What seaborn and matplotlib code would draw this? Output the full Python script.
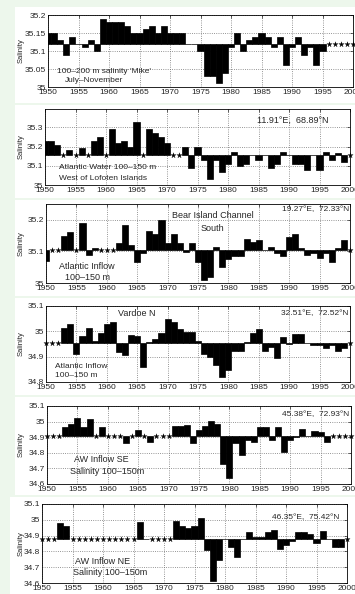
import numpy as np
import matplotlib
matplotlib.use('Agg')
import matplotlib.pyplot as plt
import seaborn as sb
from matplotlib.patches import Rectangle

sb.set_style('white')
plt.rcParams['font.family'] = ['Liberation Sans', 'DejaVu Sans']

nan = np.nan
gadi = np.arange(1950, 2001)

# 100-200 m salinity 'Mike', July-November
mike = [35.15, 35.15, 35.13, 35.09, 35.14, 35.12, 35.11, 35.13, 35.10, 35.19,
        35.18, 35.18, 35.18, 35.17, 35.15, 35.15, 35.16, 35.17, 35.15, 35.17,
        35.15, 35.15, 35.15, 35.12, 35.12, 35.10, 35.03, 35.03, 35.01, 35.04,
        35.11, 35.15, 35.10, 35.13, 35.14, 35.15, 35.14, 35.11, 35.14, 35.06,
        35.11, 35.14, 35.09, 35.11, 35.06, 35.10, nan, nan, nan, nan, nan]
mike_vid = 35.12

# Atlantic Water 100-150 m, West of Lofoten
lofoten = [35.23, 35.23, 35.21, nan, 35.18, nan, 35.19, nan, 35.23, 35.25,
           nan, 35.29, 35.22, 35.23, 35.20, 35.33, nan, 35.29, 35.27, 35.25,
           35.22, nan, nan, 35.20, 35.09, 35.20, 35.13, 35.03, 35.13, 35.07,
           35.11, 35.17, 35.10, 35.11, 35.155, 35.13, 35.155, 35.09, 35.11, 35.17,
           35.157, 35.11, 35.11, 35.08, 35.157, 35.08, 35.17, 35.13, 35.165, 35.12, nan]
lofoten_vid = 35.157

# Bear Island Channel South
lacu = [35.07, nan, nan, 35.15, 35.16, nan, 35.19, 35.09, 35.11, nan,
        nan, nan, 35.125, 35.185, 35.12, 35.065, 35.095, 35.165, 35.155, 35.20,
        35.125, 35.155, 35.125, 35.098, 35.125, 35.065, 35.01, 35.02, 35.115, 35.05,
        35.077, 35.085, 35.085, 35.14, 35.13, 35.135, 35.105, 35.115, 35.095, 35.085,
        35.145, 35.155, 35.11, 35.09, 35.095, 35.08, 35.095, 35.065, 35.11, 35.135, nan]
lacu_vid = 35.103

# Vardoe N
vardoe = [nan, nan, nan, 35.013, 35.03, 34.91, 34.983, 35.013, 34.963, 34.993,
          35.03, 35.035, 34.92, 34.905, 34.987, 34.98, 34.86, 34.958, 34.97, 34.993,
          35.05, 35.035, 35.01, 34.997, 34.998, 34.963, 34.91, 34.90, 34.867, 34.82,
          34.847, 34.923, 34.923, 34.958, 34.993, 35.008, 34.923, 34.937, 34.893, 34.977,
          34.95, 34.99, 34.99, 34.953, 34.948, 34.948, 34.935, 34.948, 34.923, 34.935, nan]
vardoe_vid = 34.952

# AW Inflow SE
se = [nan, nan, nan, 34.968, 34.985, 35.02, 34.965, 35.015, nan, 34.965,
      nan, nan, nan, 34.86, nan, 34.945, nan, 34.87, nan, nan,
      nan, 34.975, 34.975, 34.98, 34.865, 34.945, 34.97, 35.005, 34.985, 34.73,
      34.64, 34.865, 34.785, 34.885, 34.87, 34.965, 34.965, 34.88, 34.965, 34.805,
      34.88, 34.90, 34.955, 34.905, 34.94, 34.935, 34.87, nan, nan, nan, nan]
se_vid = 34.905

# AW Inflow NE
ne = [nan, nan, nan, 34.98, 34.96, nan, nan, nan, nan, nan,
      nan, nan, nan, nan, nan, nan, 34.985, 34.88, nan, nan,
      nan, nan, 34.99, 34.96, 34.948, 34.96, 35.01, 34.806, 34.615, 34.746,
      34.88, 34.827, 34.763, 34.88, 34.922, 34.893, 34.893, 34.922, 34.933, 34.816,
      34.838, 34.863, 34.922, 34.922, 34.912, 34.852, 34.931, 34.88, 34.825, 34.825, nan]
ne_vid = 34.88

fig = plt.figure(figsize=(3.55, 5.94), dpi=100, facecolor='#edf7ec')
W, H = 355.0, 594.0

# balti laukumi zem katra grafika
for x0, y0, x1, y1 in [(15, 7, 355, 103), (15, 105, 355, 198), (15, 200, 355, 296),
                       (15, 298, 355, 395), (15, 397, 355, 495), (10, 497, 355, 594)]:
    fig.patches.append(Rectangle((x0 / W, 1 - y1 / H), (x1 - x0) / W, (y1 - y0) / H,
                                 transform=fig.transFigure, facecolor='white',
                                 edgecolor='none', zorder=-5))


def grafiks(dati, vid, poz, ylim, yticks):
    l, r, t, b = poz
    ax = fig.add_axes([l / W, 1 - b / H, (r - l) / W, (b - t) / H])
    v = np.array(dati, dtype=float)
    ok = ~np.isnan(v)
    ax.bar(gadi[ok], v[ok] - vid, bottom=vid, width=1, color='k',
           edgecolor='k', linewidth=0.5, zorder=3)
    if (~ok).any():
        sb.scatterplot(x=gadi[~ok], y=np.full((~ok).sum(), vid), marker='*',
                       color='k', s=16, linewidth=0.2, edgecolor='k', ax=ax,
                       zorder=4, clip_on=False)
    ax.set_xlim(1950, 2000)
    ax.set_ylim(*ylim)
    ax.set_xticks(np.arange(1950, 2001, 5))
    ax.set_yticks(yticks)
    ax.set_yticklabels(['%g' % y for y in yticks])
    ax.grid(True, linestyle=':', color='0.45', linewidth=0.6)
    ax.set_axisbelow(True)
    ax.tick_params(direction='in', length=2, width=0.5, top=True, right=True,
                   labelsize=6, pad=1.5)
    for s in ax.spines.values():
        s.set_linewidth(0.6)
        s.set_color('k')
    ax.set_ylabel('Salinity', fontsize=5.5)
    ax.yaxis.set_label_coords((25 - l) / (r - l), 0.5)
    return ax


ax1 = grafiks(mike, mike_vid, (48, 353, 15, 87), (35.0, 35.2),
              [35.0, 35.05, 35.1, 35.15, 35.2])
ax1.text(0.03, 0.22, "100\u2013200 m salinity 'Mike'", transform=ax1.transAxes,
         fontsize=6, va='center')
ax1.text(0.056, 0.095, 'July\u2013November', transform=ax1.transAxes,
         fontsize=6, va='center')

ax2 = grafiks(lofoten, lofoten_vid, (45, 350, 109, 185), (35.0, 35.395),
              [35.0, 35.1, 35.2, 35.3])
ax2.text(0.93, 0.855, '11.91\u00b0E,  68.89\u00b0N', transform=ax2.transAxes,
         fontsize=6.5, va='center', ha='right')
ax2.text(0.045, 0.224, 'Atlantic Water 100\u2013150 m', transform=ax2.transAxes,
         fontsize=6, va='center')
ax2.text(0.045, 0.092, 'West of Lofoten Islands', transform=ax2.transAxes,
         fontsize=6, va='center')

ax3 = grafiks(lacu, lacu_vid, (46, 350, 204, 283), (35.0, 35.25),
              [35.0, 35.1, 35.2])
ax3.text(0.548, 0.86, 'Bear Island Channel', transform=ax3.transAxes,
         fontsize=6.5, va='center', ha='center')
ax3.text(0.548, 0.695, 'South', transform=ax3.transAxes,
         fontsize=6.5, va='center', ha='center')
ax3.text(0.998, 0.925, '19.27\u00b0E,  72.33\u00b0N', transform=ax3.transAxes,
         fontsize=6, va='center', ha='right')
ax3.text(0.135, 0.205, 'Atlantic Inflow', transform=ax3.transAxes,
         fontsize=6.5, va='center', ha='center')
ax3.text(0.135, 0.065, '100\u2013150 m', transform=ax3.transAxes,
         fontsize=6.5, va='center', ha='center')

ax4 = grafiks(vardoe, vardoe_vid, (46, 350, 306, 382), (34.8, 35.1),
              [34.8, 34.9, 35.0, 35.1])
ax4.text(0.3, 0.895, 'Vardoe N', transform=ax4.transAxes,
         fontsize=6.5, va='center', ha='center')
ax4.text(0.995, 0.895, '32.51\u00b0E,  72.52\u00b0N', transform=ax4.transAxes,
         fontsize=6, va='center', ha='right')
ax4.text(0.028, 0.2, 'Atlantic Inflow', transform=ax4.transAxes,
         fontsize=6, va='center')
ax4.text(0.028, 0.08, '100\u2013150 m', transform=ax4.transAxes,
         fontsize=6, va='center')

ax5 = grafiks(se, se_vid, (47, 351, 406, 484), (34.6, 35.1),
              [34.6, 34.7, 34.8, 34.9, 35.0, 35.1])
ax5.text(0.993, 0.885, '45.38\u00b0E,  72.93\u00b0N', transform=ax5.transAxes,
         fontsize=6, va='center', ha='right')
ax5.text(0.18, 0.31, 'AW Inflow SE', transform=ax5.transAxes,
         fontsize=6.5, va='center', ha='center')
ax5.text(0.198, 0.155, 'Salinity 100\u2013150m', transform=ax5.transAxes,
         fontsize=6.5, va='center', ha='center')

ax6 = grafiks(ne, ne_vid, (42, 347, 504, 583), (34.6, 35.1),
              [34.6, 34.7, 34.8, 34.9, 35.0, 35.1])
ax6.text(0.975, 0.823, '46.35\u00b0E,  75.42\u00b0N', transform=ax6.transAxes,
         fontsize=6, va='center', ha='right')
ax6.text(0.2, 0.266, 'AW Inflow NE', transform=ax6.transAxes,
         fontsize=6.5, va='center', ha='center')
ax6.text(0.223, 0.127, 'Salinity 100\u2013150m', transform=ax6.transAxes,
         fontsize=6.5, va='center', ha='center')

plt.savefig('out.png', dpi=100, facecolor=fig.get_facecolor())
